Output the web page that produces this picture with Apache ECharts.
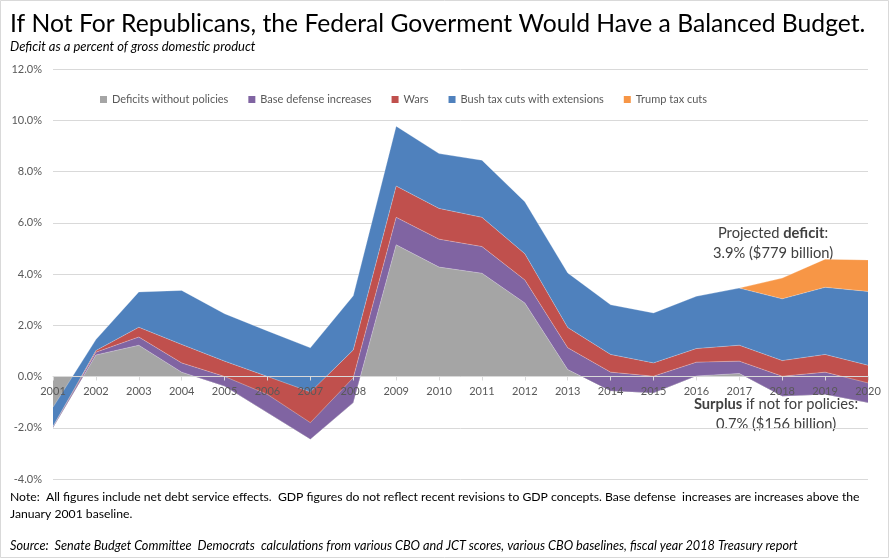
<!DOCTYPE html>
<html>
<head>
<meta charset="utf-8">
<script src="https://cdn.jsdelivr.net/npm/echarts@6/dist/echarts.min.js"></script>
<style>
  html, body { margin: 0; padding: 0; background: #fff; }
  #chart { width: 891px; height: 559px; }
</style>
</head>
<body>
<div id="chart"></div>
<script>
'use strict';

var FONT = 'Lato, "Liberation Sans", sans-serif';

// deficit as % of GDP
var years = ['2001', '2002', '2003', '2004', '2005', '2006', '2007', '2008', '2009', '2010',
    '2011', '2012', '2013', '2014', '2015', '2016', '2017', '2018', '2019', '2020'];
var noPolicy = [-2.00, 0.84, 1.22, 0.17, -0.38, -1.41, -2.45, -1.02, 5.14, 4.27,
    4.03, 2.87, 0.27, -0.57, -0.64, 0.02, 0.12, -0.77, -0.70, -1.02];
var defense = [0.05, 0.11, 0.32, 0.36, 0.38, 0.71, 0.65, 0.97, 1.07, 1.09,
    1.04, 0.90, 0.85, 0.74, 0.65, 0.54, 0.48, 0.78, 0.87, 0.77];
var wars = [0.00, 0.06, 0.38, 0.72, 0.60, 0.70, 1.20, 1.08, 1.22, 1.20,
    1.14, 1.02, 0.79, 0.69, 0.52, 0.53, 0.62, 0.61, 0.69, 0.69];
var bushCuts = [0.75, 0.43, 1.38, 2.11, 1.85, 1.78, 1.72, 2.12, 2.34, 2.14,
    2.23, 2.03, 2.13, 1.94, 1.95, 2.04, 2.23, 2.41, 2.62, 2.88];
var trumpCuts = ['-', '-', '-', '-', '-', '-', '-', '-', '-', '-',
    '-', '-', '-', '-', '-', '-', 0, 0.81, 1.10, 1.23];

var seriesNames = ['Deficits without policies', 'Base defense increases', 'Wars',
    'Bush tax cuts with extensions', 'Trump tax cuts'];
var seriesColors = ['#a5a5a5', '#8064a2', '#c0504d', '#4f81bd', '#f79646'];
var seriesData = [noPolicy, defense, wars, bushCuts, trumpCuts];

var titleText = 'If Not For Republicans, the Federal Goverment Would Have a Balanced Budget.';
var subText = 'Deficit as a percent of gross domestic product';
var noteLine1 = 'Note:  All figures include net debt service effects.  GDP figures do not reflect recent revisions to GDP concepts. Base defense  increases are increases above the';
var noteLine2 = 'January 2001 baseline.';
var sourceText = 'Source:  Senate Budget Committee  Democrats  calculations from various CBO and JCT scores, various CBO baselines, fiscal year 2018 Treasury report';

// font size that makes a string as wide as it is in the picture
var measureCtx = document.createElement('canvas').getContext('2d');
function fitSize(text, width, style) {
    measureCtx.font = (style || '') + ' 100px ' + FONT;
    return Math.round(100 * width / measureCtx.measureText(text).width * 10) / 10;
}

var titleSize = fitSize(titleText, 855);
var subSize = fitSize(subText, 245, 'italic');
var legendSize = fitSize('Deficits without policies', 116);
var axisSize = 11;
var noteSize = fitSize(noteLine1, 850);
var sourceSize = fitSize(sourceText, 790, 'italic');
var noteText = fitSize('3.9% ($779 billion)', 120);

function areaSeries(i) {
    return {
        name: seriesNames[i],
        type: 'line',
        stack: 'total',
        stackStrategy: 'all',
        symbol: 'none',
        lineStyle: { width: 0.6, color: 'rgba(255,255,255,0.45)' },
        areaStyle: { color: seriesColors[i], opacity: 1 },
        itemStyle: { color: seriesColors[i] },
        data: seriesData[i]
    };
}

function plainText(x, y, text, size, extra) {
    var style = {
        x: x, y: y, verticalAlign: 'middle',
        text: text, fontFamily: FONT, fontSize: size, fill: '#000'
    };
    for (var k in extra) {
        style[k] = extra[k];
    }
    return { type: 'text', silent: true, style: style };
}

var annoRich = {
    a: { fontFamily: FONT, fontSize: noteText, fill: '#404040' },
    b: { fontFamily: FONT, fontSize: noteText, fontWeight: 'bold', fill: '#404040' }
};

var chart = echarts.init(document.getElementById('chart'));

var option = {
    animation: false,
    backgroundColor: '#fff',
    textStyle: { fontFamily: FONT },
    title: [{
        text: titleText,
        left: 10,
        top: 12,
        padding: 0,
        textStyle: { fontFamily: FONT, fontSize: titleSize, fontWeight: 'normal', color: '#000' }
    }, {
        text: subText,
        left: 10,
        top: 40,
        padding: 0,
        textStyle: { fontFamily: FONT, fontSize: subSize, fontWeight: 'normal', fontStyle: 'italic', color: '#000' }
    }],
    legend: {
        left: 95,
        top: 89,
        icon: 'rect',
        itemWidth: 7,
        itemHeight: 7,
        itemGap: 20,
        textStyle: { fontFamily: FONT, fontSize: legendSize, color: '#595959' },
        data: seriesNames
    },
    grid: { left: 53, right: 23, top: 69, bottom: 80 },
    xAxis: {
        type: 'category',
        data: years,
        boundaryGap: false,
        z: 5,
        offset: -102.5,
        axisLine: { onZero: false, lineStyle: { color: '#d9d9d9', width: 1 } },
        axisTick: { show: true, length: 4, lineStyle: { color: '#d9d9d9' } },
        axisLabel: { margin: 9, fontFamily: FONT, fontSize: axisSize, color: '#595959' }
    },
    yAxis: {
        type: 'value',
        min: -4,
        max: 12,
        interval: 2,
        axisLine: { show: false },
        axisTick: { show: false },
        splitLine: { lineStyle: { color: '#d9d9d9' } },
        axisLabel: {
            margin: 11,
            fontFamily: FONT,
            fontSize: axisSize,
            color: '#595959',
            formatter: function(v) { return v.toFixed(1) + '%'; }
        }
    },
    graphic: [
        {
            type: 'rect',
            silent: true,
            shape: { x: 0.5, y: 0.5, width: 888, height: 557 },
            style: { fill: 'none', stroke: '#d9d9d9', lineWidth: 1 }
        },
        {
            type: 'text',
            silent: true,
            style: {
                x: 773, y: 233, align: 'center', verticalAlign: 'middle',
                text: '{a|Projected }{b|deficit}{a|:}', rich: annoRich
            }
        },
        plainText(773, 253, '3.9% ($779 billion)', noteText, { align: 'center', fill: '#404040' }),
        {
            type: 'text',
            silent: true,
            style: {
                x: 776, y: 404, align: 'center', verticalAlign: 'middle',
                text: '{b|Surplus}{a| if not for policies:}', rich: annoRich
            }
        },
        plainText(776, 424, '0.7% ($156 billion)', noteText, { align: 'center', fill: '#404040' }),
        plainText(10, 497, noteLine1, noteSize),
        plainText(10, 514, noteLine2, noteSize),
        plainText(10, 546, sourceText, sourceSize, { fontStyle: 'italic' })
    ],
    series: [0, 1, 2, 3, 4].map(areaSeries)
};

chart.setOption(option);
</script>
</body>
</html>
